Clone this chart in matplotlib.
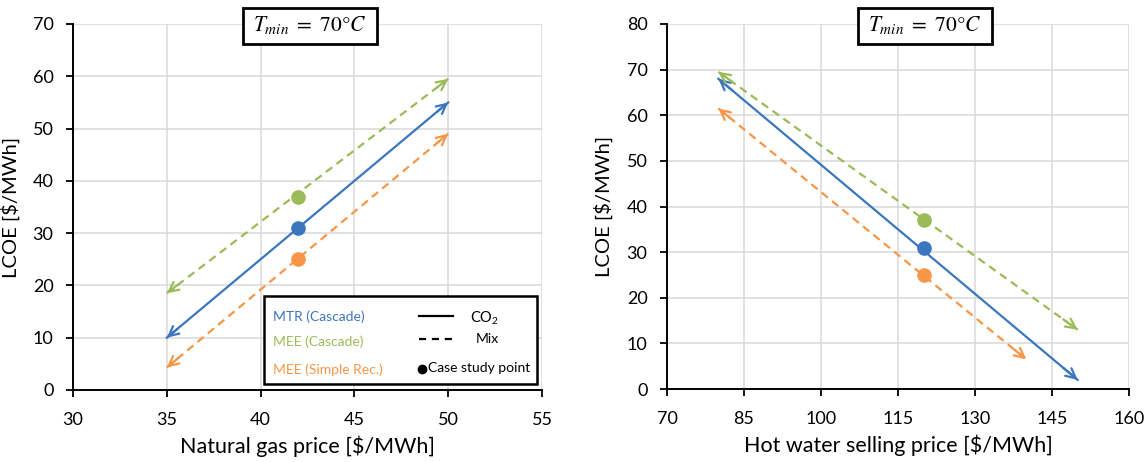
import matplotlib
matplotlib.use("Agg")
import matplotlib.pyplot as plt
from matplotlib.patches import Rectangle
from matplotlib.lines import Line2D

plt.rcParams['font.family'] = ['Lato', 'DejaVu Sans']
plt.rcParams['mathtext.fontset'] = 'stix'

BLUE = '#3B76BE'
GREEN = '#9BBB59'
ORANGE = '#F79646'
GRID = '#D9D9D9'

series_names = ['MTR (Cascade)', 'MEE (Cascade)', 'MEE (Simple Rec.)']
series_colors = [BLUE, GREEN, ORANGE]
series_dashed = [False, True, True]

# natural gas price sensitivity: line end points and case study point
gas_x_ends = [[35, 50], [35, 50], [35, 50]]
gas_y_ends = [[10, 55], [18.5, 59.5], [4.3, 49]]
gas_case_x = 42
gas_case_y = [31, 37, 25]

# hot water selling price sensitivity
hw_x_ends = [[80, 150], [80, 150], [80, 140]]
hw_y_ends = [[68, 2], [69.5, 13], [61.5, 6.5]]
hw_case_x = 120
hw_case_y = [31, 37, 25]

W, H = 1148, 462
fig = plt.figure(figsize=(W / 100, H / 100), dpi=100)


def px_axes(x0, x1, y0, y1):
    return fig.add_axes([x0 / W, 1 - y1 / H, (x1 - x0) / W, (y1 - y0) / H])


def style_axes(ax, xlim, xticks, ylim, yticks, xlabel, ylabel, ylab_x):
    ax.set_xlim(*xlim)
    ax.set_ylim(*ylim)
    ax.set_xticks(xticks)
    ax.set_yticks(yticks)
    ax.grid(True, color=GRID, lw=1.1)
    ax.set_axisbelow(True)
    for s in ('top', 'right'):
        ax.spines[s].set_visible(False)
    for s in ('left', 'bottom'):
        ax.spines[s].set_linewidth(1.4)
        ax.spines[s].set_color('black')
    ax.tick_params(direction='out', length=5, width=1.3, labelsize=13)
    ax.tick_params(axis='y', pad=9)
    ax.tick_params(axis='x', pad=11)
    ax.set_xlabel(xlabel, fontsize=15.5)
    ax.set_ylabel(ylabel, fontsize=14.5)
    ax.xaxis.set_label_coords(0.5, -0.125)
    ax.yaxis.set_label_coords(ylab_x, 0.5)


def draw_series(ax, xs, ys, cx, cys):
    for x, y, c, color, dashed in zip(xs, ys, cys, series_colors, series_dashed):
        if dashed:
            ax.plot(x, y, color=color, lw=1.6, dashes=(3.6, 2.4), zorder=3)
        else:
            ax.plot(x, y, color=color, lw=1.6, zorder=3)
        # open arrow heads at both ends
        for i, j in ((0, 1), (1, 0)):
            dx = (x[i] - x[j]) * 0.04
            dy = (y[i] - y[j]) * 0.04
            ax.annotate('', xy=(x[i], y[i]), xytext=(x[i] - dx, y[i] - dy),
                        arrowprops=dict(arrowstyle='->,head_length=0.7,head_width=0.35',
                                        color=color, lw=1.6, shrinkA=0, shrinkB=0),
                        zorder=3)
        ax.plot([cx], [c], 'o', color=color, ms=9.5, zorder=4)


ax1 = px_axes(73, 542, 24, 390)
style_axes(ax1, (30, 55), range(30, 56, 5), (0, 70), range(0, 71, 10),
           'Natural gas price [$/MWh]', 'LCOE [$/MWh]', -0.113)
draw_series(ax1, gas_x_ends, gas_y_ends, gas_case_x, gas_case_y)

ax2 = px_axes(667, 1129, 24, 389)
style_axes(ax2, (70, 160), range(70, 161, 15), (0, 80), range(0, 81, 10),
           'Hot water selling price [$/MWh]', 'LCOE [$/MWh]', -0.117)
draw_series(ax2, hw_x_ends, hw_y_ends, hw_case_x, hw_case_y)

# legend box drawn by hand inside the left panel
ax1.add_patch(Rectangle((0.407, 0.016), 0.582, 0.241, transform=ax1.transAxes,
                        facecolor='white', edgecolor='black', lw=1.8, zorder=5,
                        clip_on=False))
for name, color, yy in zip(series_names, series_colors, [0.199, 0.131, 0.055]):
    ax1.text(0.426, yy, name, color=color, fontsize=10, va='center', ha='left',
             transform=ax1.transAxes, zorder=6)
ax1.add_line(Line2D([0.738, 0.810], [0.202, 0.202], color='black', lw=1.6,
                    transform=ax1.transAxes, zorder=6))
ax1.add_line(Line2D([0.738, 0.810], [0.139, 0.139], color='black', lw=1.6,
                    dashes=(3.2, 2.6), transform=ax1.transAxes, zorder=6))
ax1.text(0.878, 0.195, r'CO$_\mathregular{2}$', fontsize=10.5, ha='center', va='center',
         transform=ax1.transAxes, zorder=6)
ax1.text(0.883, 0.139, 'Mix', fontsize=10, ha='center', va='center',
         transform=ax1.transAxes, zorder=6)
ax1.plot([0.745], [0.058], 'o', color='black', ms=6, transform=ax1.transAxes,
         zorder=6, clip_on=False)
ax1.text(0.757, 0.060, 'Case study point', fontsize=10, ha='left', va='center',
         transform=ax1.transAxes, zorder=6)

# boxed temperature labels above each panel
for x0, x1 in ((243, 377), (858, 992)):
    fig.add_artist(Rectangle((x0 / W, 1 - 44 / H), (x1 - x0) / W, 36 / H,
                             transform=fig.transFigure, facecolor='white',
                             edgecolor='black', lw=2.0, zorder=10))
    fig.text((x0 + x1) / 2 / W, 1 - 25 / H, r'$T_{min}\ =\ 70\degree C$',
             fontsize=15.5, ha='center', va='center', zorder=11)

fig.savefig('out.png', dpi=100)
